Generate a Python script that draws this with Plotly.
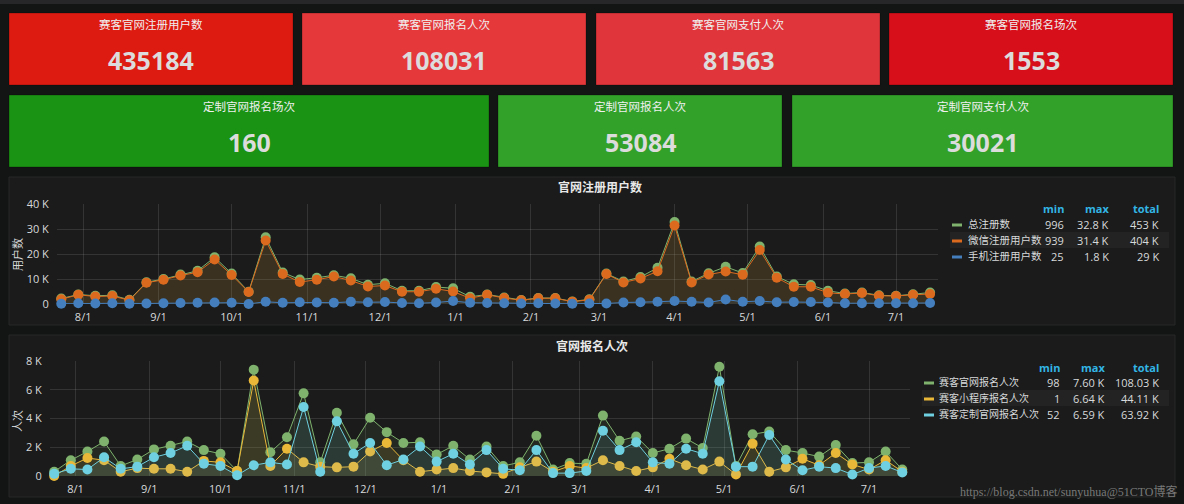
import plotly.graph_objects as go
import pandas as pd

W, H = 1184, 504

# ---------------- data ----------------
week_dates = pd.date_range("2017-07-23", periods=52, freq="7D")

month_ticks = ["2017-08-01", "2017-09-01", "2017-10-01", "2017-11-01", "2017-12-01", "2018-01-01",
               "2018-02-01", "2018-03-01", "2018-04-01", "2018-05-01", "2018-06-01", "2018-07-01"]
month_labels = ["8/1", "9/1", "10/1", "11/1", "12/1", "1/1", "2/1", "3/1", "4/1", "5/1", "6/1", "7/1"]

# chart 1 : registered users
reg_names = ["总注册数", "微信注册用户数", "手机注册用户数"]
reg_total = [2200, 3800, 3300, 3500, 1700, 8700, 10000, 11800, 13300, 18700, 12200, 4900, 26700, 12600,
             9800, 10500, 11500, 10300, 7700, 8300, 5300, 5300, 6800, 6300, 2900, 3800, 2600, 1600, 2400,
             2400, 996, 1900, 12200, 9000, 10800, 14500, 32800, 9000, 12300, 14900, 12400, 23000, 11000,
             7900, 7600, 5300, 4200, 4600, 3500, 3300, 3900, 4600]
reg_wechat = [1900, 3700, 3000, 3200, 1500, 8500, 9700, 11400, 12700, 17800, 11600, 4800, 25400, 12000,
              8800, 9700, 11000, 9400, 7000, 7400, 4900, 4900, 6100, 5000, 2300, 3700, 2400, 1500, 2300,
              2300, 939, 1700, 12000, 8600, 10200, 13100, 31400, 8600, 11800, 13000, 11700, 21600, 10500,
              6900, 6900, 4500, 4000, 4400, 3300, 3200, 3700, 4000]
reg_phone = [100, 300, 200, 300, 100, 200, 300, 400, 500, 600, 500, 25, 900, 500, 700, 600, 500, 900, 700,
             800, 400, 300, 600, 1200, 500, 400, 300, 200, 300, 200, 100, 200, 200, 600, 700, 900, 1200,
             900, 600, 1800, 900, 1200, 700, 800, 800, 600, 300, 300, 300, 300, 300, 400]
reg_min = ["996", "939", "25"]
reg_max = ["32.8 K", "31.4 K", "1.8 K"]
reg_sum = ["453 K", "404 K", "29 K"]
reg_yticks = [0, 10000, 20000, 30000, 40000]
reg_yticklabels = ["0", "10 K", "20 K", "30 K", "40 K"]

# chart 2 : sign-ups
sign_names = ["赛客官网报名人次", "赛客小程序报名人次", "赛客定制官网报名人次"]
sign_a = [300, 1100, 1700, 2400, 700, 1150, 1850, 2100, 2400, 1800, 1550, 350, 7400, 1650, 2700, 5750,
          950, 4400, 2200, 4050, 3050, 2300, 2350, 1500, 2100, 1150, 2050, 700, 950, 2800, 450, 900, 850,
          4200, 2450, 2750, 1600, 1900, 2600, 1950, 7600, 700, 2900, 3100, 1800, 1600, 1350, 2150, 900,
          950, 1700, 450]
sign_b = [1, 700, 1250, 1100, 300, 550, 500, 500, 300, 1050, 950, 350, 6640, 700, 1900, 950, 650, 600,
          650, 1700, 2300, 1100, 300, 450, 550, 350, 250, 150, 600, 1000, 300, 700, 550, 1100, 700, 350,
          600, 1200, 750, 450, 1000, 100, 2250, 300, 600, 1200, 750, 1600, 800, 450, 1100, 300]
sign_c = [150, 500, 450, 1300, 500, 650, 1300, 1600, 2100, 850, 700, 52, 750, 950, 800, 4800, 300, 3800,
          1550, 2300, 750, 1150, 2050, 1000, 1550, 800, 1800, 500, 400, 1800, 200, 200, 350, 3150, 1800,
          2350, 950, 850, 1900, 1550, 6590, 650, 650, 2850, 1150, 400, 650, 550, 100, 550, 700, 250]
sign_min = ["98", "1", "52"]
sign_max = ["7.60 K", "6.64 K", "6.59 K"]
sign_sum = ["108.03 K", "44.11 K", "63.92 K"]
sign_yticks = [0, 2000, 4000, 6000, 8000]
sign_yticklabels = ["0", "2 K", "4 K", "6 K", "8 K"]

# stat panels
stat_titles = ["赛客官网注册用户数", "赛客官网报名人次", "赛客官网支付人次", "赛客官网报名场次",
               "定制官网报名场次", "定制官网报名人次", "定制官网支付人次"]
stat_values = ["435184", "108031", "81563", "1553", "160", "53084", "30021"]

# ---------------- styles ----------------
FONT = "Open Sans, Noto Sans CJK SC, sans-serif"
PAGE_BG = "#131514"
PANEL_BG = "#1a1b1a"
PANEL_BORDER = "#262826"
GRID = "rgba(255,255,255,0.11)"
TXT = "#d8d9da"
HEAD = "#33b5e5"

reg_colors = ["#7EB26D", "#DC6A1E", "#447EBC"]
reg_fills = ["rgba(126,178,109,0.10)", "rgba(220,106,30,0.12)", "rgba(68,126,188,0.10)"]
sign_colors = ["#7EB26D", "#EAB839", "#6ED0E0"]
sign_fills = ["rgba(126,178,109,0.10)", "rgba(234,184,57,0.12)", "rgba(110,208,224,0.10)"]

stat_boxes = [(9, 13, 293, 85), (302, 13, 586, 85), (596, 13, 880, 85), (889, 13, 1173, 85),
              (9, 95, 489, 167), (498, 95, 782, 167), (792, 95, 1173, 167)]
stat_colors = ["#DE1B10", "#E5383B", "#E0353A", "#D60F1A", "#1A9213", "#32A12A", "#32A12A"]


def px(x):
    return x / W


def py(y):
    return 1 - y / H


fig = go.Figure()

for name, vals, col, fc in zip(reg_names, [reg_total, reg_wechat, reg_phone], reg_colors, reg_fills):
    fig.add_trace(go.Scatter(x=week_dates, y=vals, name=name, mode="lines+markers",
                             line=dict(color=col, width=1), marker=dict(color=col, size=10),
                             fill="tozeroy", fillcolor=fc, cliponaxis=False,
                             xaxis="x", yaxis="y", showlegend=False))

for name, vals, col, fc in zip(sign_names, [sign_a, sign_b, sign_c], sign_colors, sign_fills):
    fig.add_trace(go.Scatter(x=week_dates, y=vals, name=name, mode="lines+markers",
                             line=dict(color=col, width=1), marker=dict(color=col, size=10),
                             fill="tozeroy", fillcolor=fc, cliponaxis=False,
                             xaxis="x2", yaxis="y2", showlegend=False))

xr = ["2017-07-21 06:00", "2018-07-18 06:00"]
common_x = dict(type="date", range=xr, tickvals=month_ticks, ticktext=month_labels, automargin=False,
                showgrid=True, gridcolor=GRID, gridwidth=1, zeroline=False, showline=False,
                ticks="outside", ticklen=3, tickcolor="rgba(0,0,0,0)",
                tickfont=dict(family=FONT, size=11, color=TXT))
common_y = dict(showgrid=True, gridcolor=GRID, gridwidth=1, zeroline=False, showline=False, automargin=False,
                ticks="outside", ticklen=5, tickcolor="rgba(0,0,0,0)",
                tickfont=dict(family=FONT, size=11, color=TXT))

shapes = []
annotations = []


def note(x, y, text, size, color, xanchor="center", family=FONT, angle=0):
    annotations.append(dict(x=px(x), y=py(y), xref="paper", yref="paper", text=text, showarrow=False,
                            xanchor=xanchor, yanchor="middle", textangle=angle,
                            font=dict(family=family, size=size, color=color)))


# top nav strip
shapes.append(dict(type="rect", xref="paper", yref="paper", x0=0, x1=1, y0=py(4), y1=1,
                   fillcolor="#27272a", line=dict(width=0), layer="below"))

# stat panels
for (x0, y0, x1, y1), col, title, val in zip(stat_boxes, stat_colors, stat_titles, stat_values):
    shapes.append(dict(type="rect", xref="paper", yref="paper", x0=px(x0), x1=px(x1), y0=py(y1), y1=py(y0),
                       fillcolor=col, line=dict(width=1, color="rgba(0,0,0,0.25)"), layer="below"))
    cx = (x0 + x1) / 2
    note(cx, y0 + 11, title, 11.5, "#f0f0f0")
    note(cx, y0 + 47, "<b>%s</b>" % val, 25, "#dcdcdc")

# graph panels
for (x0, y0, x1, y1) in [(9, 177, 1175, 325), (9, 335, 1175, 497)]:
    shapes.append(dict(type="rect", xref="paper", yref="paper", x0=px(x0), x1=px(x1), y0=py(y1), y1=py(y0),
                       fillcolor=PANEL_BG, line=dict(width=1, color=PANEL_BORDER), layer="below"))

note(600, 187, "<b>官网注册用户数</b>", 12, "#e8e8e8")
note(592, 346, "<b>官网报名人次</b>", 12, "#e8e8e8")
note(17, 255, "用户数", 11, TXT, angle=-90)
note(17, 421, "人次", 11, TXT, angle=-90)


def legend_table(names, colors, mins, maxs, sums, head_y, row_y0, dash_x, name_x, cols_right, hl, name_size):
    hx0, hx1 = hl
    shapes.append(dict(type="rect", xref="paper", yref="paper", x0=px(hx0), x1=px(hx1),
                       y0=py(row_y0 + 16 + 8), y1=py(row_y0 + 16 - 8), fillcolor="#222322",
                       line=dict(width=0), layer="below"))
    for head, xr_ in zip(["min", "max", "total"], cols_right):
        note(xr_, head_y, "<b>%s</b>" % head, 11, HEAD, xanchor="right")
    for i, (n, c, a, b, s) in enumerate(zip(names, colors, mins, maxs, sums)):
        yy = row_y0 + 16 * i
        shapes.append(dict(type="line", xref="paper", yref="paper", x0=px(dash_x), x1=px(dash_x + 10),
                           y0=py(yy + 1), y1=py(yy + 1), line=dict(color=c, width=3)))
        note(name_x, yy, n, name_size, TXT, xanchor="left")
        for v, xr_ in zip([a, b, s], cols_right):
            note(xr_, yy, v, 11, TXT, xanchor="right")


legend_table(reg_names, reg_colors, reg_min, reg_max, reg_sum, 208, 224, 952, 966, [1066, 1111, 1161],
             (950, 1169), 10.5)
legend_table(sign_names, sign_colors, sign_min, sign_max, sign_sum, 367, 382, 924, 937, [1062, 1107, 1161],
             (922, 1169), 10)

note(1180, 491, "https://blog.csdn.net/sunyuhua@51CTO博客", 12, "rgba(200,200,200,0.55)", xanchor="right",
     family="Liberation Serif, Noto Sans CJK SC, serif")

fig.update_layout(
    width=W, height=H, margin=dict(l=0, r=0, t=0, b=0, pad=0, autoexpand=False), autosize=False,
    paper_bgcolor=PAGE_BG, plot_bgcolor="rgba(0,0,0,0)",
    font=dict(family=FONT, color=TXT),
    xaxis=dict(domain=[px(57), px(938)], anchor="y", **common_x),
    yaxis=dict(domain=[py(304), py(204)], range=[0, 40000], tickvals=reg_yticks, ticktext=reg_yticklabels,
               anchor="x", **common_y),
    xaxis2=dict(domain=[px(50), px(910)], anchor="y2", **common_x),
    yaxis2=dict(domain=[py(476), py(361)], range=[0, 8000], tickvals=sign_yticks, ticktext=sign_yticklabels,
                anchor="x2", **common_y),
    shapes=shapes, annotations=annotations, showlegend=False,
)

post = ("var s=document.createElement('style');"
        "s.textContent='html,body{margin:0;padding:0;overflow:hidden;background:#131514;}';"
        "document.head.appendChild(s);")
fig.write_html("out.html", config={"displayModeBar": False}, post_script=post)
